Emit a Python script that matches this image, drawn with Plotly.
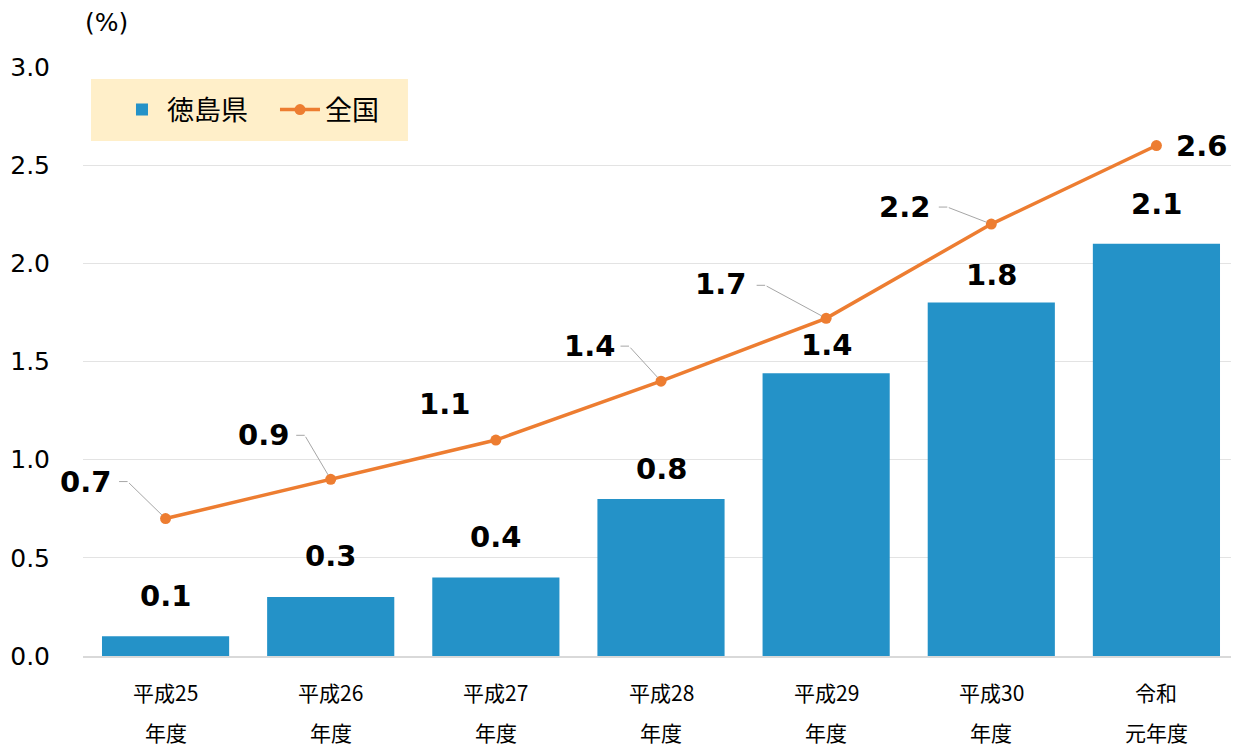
import plotly.graph_objects as go

# ---- data ----
cat_line1 = ["平成25", "平成26", "平成27", "平成28", "平成29", "平成30", "令和"]
cat_line2 = ["年度", "年度", "年度", "年度", "年度", "年度", "元年度"]
tokushima = [0.1, 0.3, 0.4, 0.8, 1.44, 1.8, 2.1]
tokushima_labels = ["0.1", "0.3", "0.4", "0.8", "1.4", "1.8", "2.1"]
national = [0.7, 0.9, 1.1, 1.4, 1.72, 2.2, 2.6]
national_labels = ["0.7", "0.9", "1.1", "1.4", "1.7", "2.2", "2.6"]
y_ticks = [0.0, 0.5, 1.0, 1.5, 2.0, 2.5, 3.0]

categories = [a + b for a, b in zip(cat_line1, cat_line2)]

# ---- styling / placement ----
BLUE = "#2492C8"
ORANGE = "#ED7D31"
NUM_FONT = "DejaVu Sans, Verdana, sans-serif"
JP_FONT = "Noto Sans CJK JP, sans-serif"
# vertical offset (px) of each bar label above its bar
bar_label_shift = [40, 41, 40, 30, 28, 28, 40]
# label offsets (px) for national series, relative to point
nat_label_shift = [(-80, 37), (-67, 44), (-51, 36), (-72, 35), (-106, 34), (-87, 17), (45, 0)]
# leader-line bend points (px, screen y downward), None = no leader line
nat_leader_bend = [(-38, -37), (-26, -44), None, (-32, -35), (-61, -33), (-44, -17), None]

fig = go.Figure()
fig.add_trace(go.Bar(
    x=categories, y=tokushima, name="徳島県",
    marker=dict(color=BLUE, line=dict(width=0)),
))
fig.add_trace(go.Scatter(
    x=categories, y=national, name="全国", mode="lines+markers",
    line=dict(color=ORANGE, width=3.5),
    marker=dict(color=ORANGE, size=11),
))

annotations = []
# bar value labels
for c, v, t, s in zip(categories, tokushima, tokushima_labels, bar_label_shift):
    annotations.append(dict(
        x=c, y=v, xref="x", yref="y", text=f"<b>{t}</b>", showarrow=False,
        yanchor="middle", yshift=s,
        font=dict(family=NUM_FONT, size=29, color="#000000"),
    ))
# national labels and leader lines
for c, v, t, (sx, sy), bend in zip(categories, national, national_labels,
                                   nat_label_shift, nat_leader_bend):
    annotations.append(dict(
        x=c, y=v, xref="x", yref="y", text=f"<b>{t}</b>", showarrow=False,
        xshift=sx, yshift=sy, yanchor="middle",
        font=dict(family=NUM_FONT, size=29, color="#000000"),
    ))
    if bend is not None:
        bx, by = bend
        annotations.append(dict(
            x=c, y=v, xref="x", yref="y", text="", showarrow=True,
            ax=bx, ay=by, arrowhead=0, arrowwidth=1, arrowcolor="#A6A6A6",
            standoff=5,
        ))
        annotations.append(dict(
            x=c, y=v, xref="x", yref="y", text="", showarrow=True,
            xshift=bx, yshift=-by, ax=-10, ay=0, arrowhead=0, arrowwidth=1,
            arrowcolor="#A6A6A6", standoff=0,
        ))
# two-line category labels
for c, l1, l2 in zip(categories, cat_line1, cat_line2):
    annotations.append(dict(
        x=c, y=0, xref="x", yref="y", text=l1, showarrow=False,
        yanchor="middle", yshift=-36,
        font=dict(family=JP_FONT, size=21, color="#000000"),
    ))
    annotations.append(dict(
        x=c, y=0, xref="x", yref="y", text=l2, showarrow=False,
        yanchor="middle", yshift=-76,
        font=dict(family=JP_FONT, size=21, color="#000000"),
    ))
# unit label
annotations.append(dict(
    x=0, y=1, xref="paper", yref="paper", text="(%)", showarrow=False,
    xanchor="left", yanchor="middle", yshift=45, xshift=0,
    font=dict(family=NUM_FONT, size=25, color="#000000"),
))

# legend background panel
legend_panel = dict(
    type="rect", xref="paper", yref="paper",
    x0=0.0069, x1=0.2811, y0=0.8744, y1=0.9796,
    fillcolor="#FFEFC9", line=dict(width=0), layer="below",
)

fig.update_layout(
    width=1231, height=738,
    margin=dict(l=75, r=0, t=59, b=90, pad=0),
    paper_bgcolor="white", plot_bgcolor="white",
    bargap=0.23,
    showlegend=True,
    legend=dict(
        orientation="h", x=0.0294, y=0.927, xanchor="left", yanchor="middle",
        bgcolor="rgba(0,0,0,0)", borderwidth=0,
        font=dict(family=JP_FONT, size=27, color="#000000"),
        itemwidth=40, entrywidth=103,
    ),
    xaxis=dict(
        type="category", categoryorder="array", categoryarray=categories,
        range=[-0.5, 6.5], automargin=False,
        showticklabels=False, showgrid=False, zeroline=False,
        showline=True, linecolor="#D9D9D9", linewidth=2, ticks="",
    ),
    yaxis=dict(
        range=[0, 3], tickvals=y_ticks, tickformat=".1f", automargin=False,
        showgrid=True, gridcolor="#E3E3E3", gridwidth=1,
        zeroline=False, showline=False, ticks="",
        ticklabelstandoff=32,
        tickfont=dict(family=NUM_FONT, size=25, color="#000000"),
    ),
    shapes=[legend_panel],
    annotations=annotations,
)

fig.write_html("out.html")
